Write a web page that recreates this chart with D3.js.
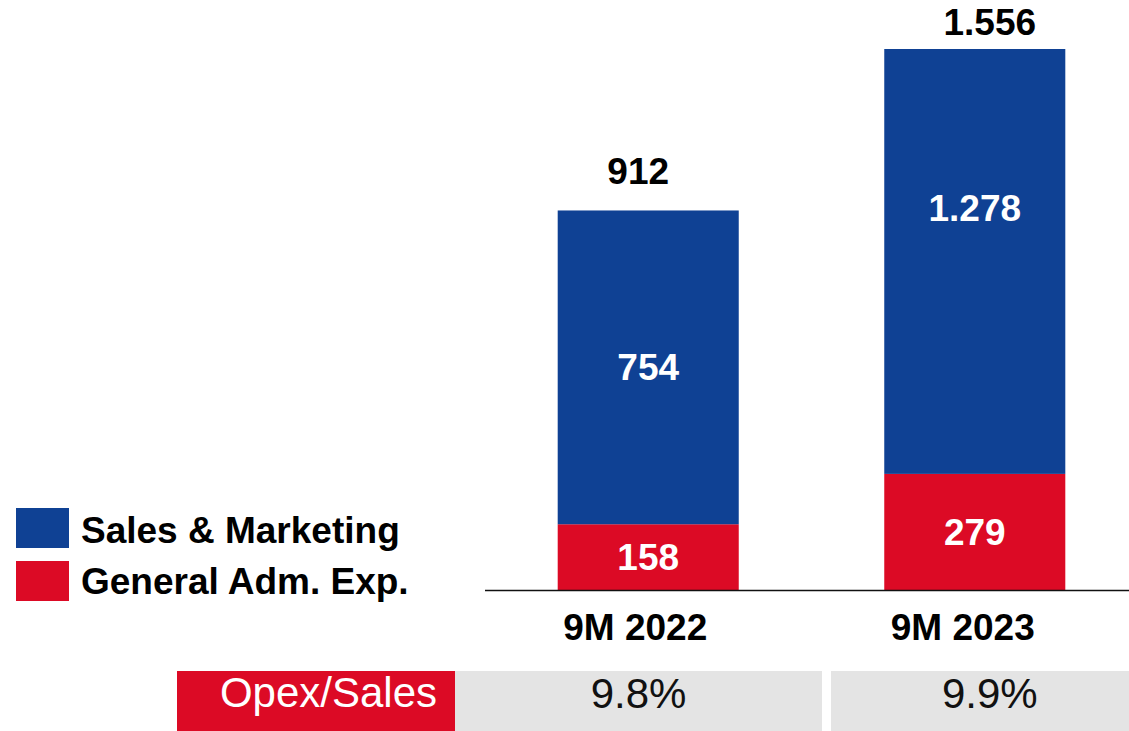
<!DOCTYPE html>
<html>
<head>
<meta charset="utf-8">
<script src="https://cdn.jsdelivr.net/npm/d3@7"></script>
<style>
  body { margin: 0; background: #fff; }
  svg { display: block; font-family: "Liberation Sans", Arial, sans-serif; }
</style>
</head>
<body>
<div id="chart"></div>
<script>
// data
const periods = ['9M 2022', '9M 2023'];
const generalAdm = [158, 279];
const salesMkt = [754, 1278];
const totals = [912, 1556];
const totalLabels = ['912', '1.556'];
const salesLabels = ['754', '1.278'];
const admLabels = ['158', '279'];
const opexRatio = ['9.8%', '9.9%'];
const seriesNames = ['Sales & Marketing', 'General Adm. Exp.'];

const blue = '#0f4194', red = '#dc0a25', grey = '#e4e4e4';
const width = 1129, height = 731;

const svg = d3.select('#chart').append('svg')
    .attr('width', width).attr('height', height);

const x = d3.scaleBand()
    .domain(periods)
    .range([495, 1128])
    .paddingInner(0.4456)
    .paddingOuter(0.192);

// the tall bar is cut off at the top of the plot, so rects use a clamped copy
const y = d3.scaleLinear().domain([0, 1300]).range([590, 49]);
const yc = y.copy().clamp(true);

const rows = periods.map((p, i) => ({
    p: p, adm: generalAdm[i], sales: salesMkt[i], total: totals[i], i: i
}));

// small nudges seen in the original label placement
const totalDx = [-10, 15];
const catDx = [-13, -12];

// red segment
svg.selectAll('rect.adm').data(rows).enter().append('rect')
    .attr('class', 'adm')
    .attr('x', d => x(d.p))
    .attr('width', x.bandwidth())
    .attr('y', d => yc(d.adm))
    .attr('height', d => yc(0) - yc(d.adm))
    .attr('fill', red);

// blue segment
svg.selectAll('rect.sales').data(rows).enter().append('rect')
    .attr('class', 'sales')
    .attr('x', d => x(d.p))
    .attr('width', x.bandwidth())
    .attr('y', d => yc(d.adm + d.sales))
    .attr('height', d => yc(d.adm) - yc(d.adm + d.sales))
    .attr('fill', blue);

// baseline
svg.append('line')
    .attr('x1', 485).attr('x2', width)
    .attr('y1', y(0) + 0.5).attr('y2', y(0) + 0.5)
    .attr('stroke', '#111').attr('stroke-width', 1.6);

const bold = sel => sel.attr('font-weight', 'bold').attr('font-size', 37).attr('text-anchor', 'middle');

// segment labels
svg.selectAll('text.adm').data(rows).enter().append('text')
    .attr('class', 'adm').call(bold)
    .attr('fill', '#fff')
    .attr('x', d => x(d.p) + x.bandwidth() / 2)
    .attr('y', d => (y(0) + y(d.adm)) / 2 + 13)
    .text(d => admLabels[d.i]);

svg.selectAll('text.sales').data(rows).enter().append('text')
    .attr('class', 'sales').call(bold)
    .attr('fill', '#fff')
    .attr('x', d => x(d.p) + x.bandwidth() / 2)
    .attr('y', d => (y(d.adm) + y(d.adm + d.sales)) / 2 + 13)
    .text(d => salesLabels[d.i]);

// totals
svg.selectAll('text.total').data(rows).enter().append('text')
    .attr('class', 'total').call(bold)
    .attr('fill', '#000')
    .attr('x', d => x(d.p) + x.bandwidth() / 2 + totalDx[d.i])
    .attr('y', d => Math.max(yc(d.total) - 26, 35))
    .text(d => totalLabels[d.i]);

// category labels
svg.selectAll('text.cat').data(rows).enter().append('text')
    .attr('class', 'cat').call(bold)
    .attr('fill', '#000')
    .attr('x', d => x(d.p) + x.bandwidth() / 2 + catDx[d.i])
    .attr('y', 640)
    .text(d => d.p);

// legend
const legend = svg.append('g');
[blue, red].forEach((c, i) => {
    legend.append('rect')
        .attr('x', 16).attr('y', 508 + i * 53)
        .attr('width', 53).attr('height', 40)
        .attr('fill', c);
    legend.append('text')
        .attr('x', 81).attr('y', 543 + i * 51)
        .attr('font-weight', 'bold').attr('font-size', 37)
        .attr('fill', '#000')
        .text(seriesNames[i]);
});

// Opex/Sales row
const table = svg.append('g');
table.append('rect')
    .attr('x', 177).attr('y', 671).attr('width', 278).attr('height', 60)
    .attr('fill', red);
table.append('text')
    .attr('x', 437).attr('y', 707)
    .attr('text-anchor', 'end')
    .attr('font-size', 42).attr('fill', '#fff')
    .text('Opex/Sales');

const cells = [[455, 822], [831, 1129]];
cells.forEach((c, i) => {
    table.append('rect')
        .attr('x', c[0]).attr('y', 671).attr('width', c[1] - c[0]).attr('height', 60)
        .attr('fill', grey);
    table.append('text')
        .attr('x', i === 0 ? (c[0] + c[1]) / 2 : x(periods[i]) + x.bandwidth() / 2 + 15)
        .attr('y', 708)
        .attr('text-anchor', 'middle')
        .attr('font-size', 42).attr('fill', '#111')
        .text(opexRatio[i]);
});
</script>
</body>
</html>
